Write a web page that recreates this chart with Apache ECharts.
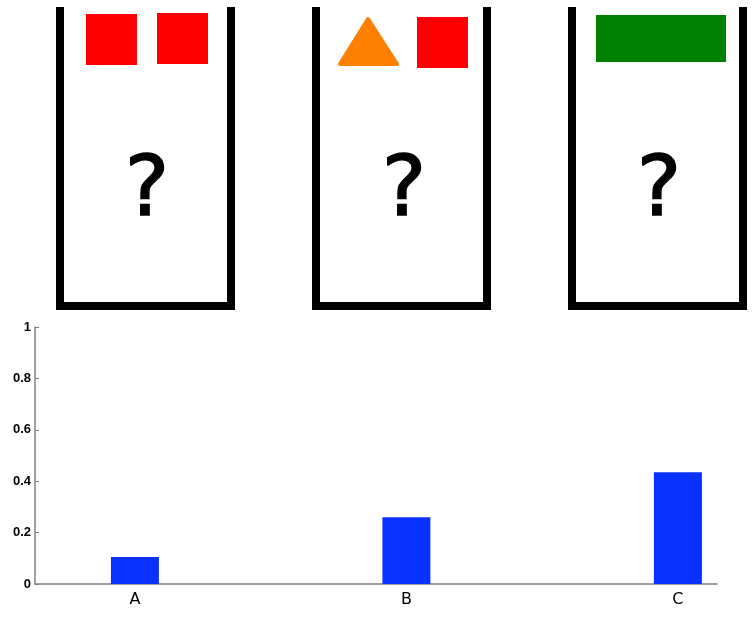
<!DOCTYPE html>
<html>
<head>
<meta charset="utf-8">
<script src="https://cdn.jsdelivr.net/npm/echarts@6/dist/echarts.min.js"></script>
<style>html,body{margin:0;padding:0;background:#fff;}#c{width:753px;height:617px;}</style>
</head>
<body>
<div id="c"></div>
<script>
const categories = ['A', 'B', 'C'];
const positions = [1, 2, 3];
const values = [0.105, 0.26, 0.435];
const yTicks = [0, 0.2, 0.4, 0.6, 0.8, 1];

const chart = echarts.init(document.getElementById('c'), null, {renderer: 'canvas'});

function wall(x, y, w, h) {
  return {type: 'rect', shape: {x: x, y: y, width: w, height: h}, style: {fill: '#000'}};
}
function container(x0, x1) {
  return [wall(x0, 7, 8, 303), wall(x1 - 8, 7, 8, 303), wall(x0, 302, x1 - x0, 8)];
}
function qmark(cx) {
  return {type: 'text', x: cx, y: 193, style: {text: '?', fontSize: 84, fontFamily: 'DejaVu Sans', fill: '#000', stroke: '#000', lineWidth: 1.5, align: 'center', verticalAlign: 'middle'}};
}

const graphics = [].concat(
  container(56, 235), container(312, 491), container(568, 747),
  [
    {type: 'rect', shape: {x: 86, y: 14, width: 51, height: 51}, style: {fill: '#ff0000'}},
    {type: 'rect', shape: {x: 157, y: 13, width: 51, height: 51}, style: {fill: '#ff0000'}},
    {type: 'polygon', shape: {points: [[368, 19], [397, 64], [340, 64]]}, style: {fill: '#ff8000', stroke: '#ff8000', lineWidth: 4, lineJoin: 'round'}},
    {type: 'rect', shape: {x: 417, y: 17, width: 51, height: 51}, style: {fill: '#ff0000'}},
    {type: 'rect', shape: {x: 596, y: 15, width: 130, height: 47}, style: {fill: '#008000'}},
    qmark(147), qmark(404), qmark(659)
  ]
);

chart.setOption({
  animation: false,
  backgroundColor: '#fff',
  grid: {left: 35, top: 327, width: 682, height: 257, containLabel: false},
  xAxis: {
    type: 'value', min: 0.632, max: 3.144,
    splitLine: {show: false},
    axisLine: {show: true, lineStyle: {color: '#808080', width: 1.5}},
    axisTick: {show: false},
    axisLabel: {
      customValues: positions,
      formatter: function (v) { const i = positions.indexOf(v); return i >= 0 ? categories[i] : ''; },
      color: '#000', fontSize: 16, fontFamily: 'DejaVu Sans', margin: 8
    }
  },
  yAxis: {
    type: 'value', min: 0, max: 1, interval: 0.2,
    splitLine: {show: false},
    axisLine: {show: true, lineStyle: {color: '#808080', width: 1.5}},
    axisTick: {show: true, inside: true, length: 4, lineStyle: {color: '#808080'}},
    axisLabel: {customValues: yTicks, color: '#000', fontSize: 13, fontWeight: 'bold', fontFamily: 'Liberation Sans', margin: 4}
  },
  series: [{
    type: 'bar',
    data: positions.map((p, i) => [p, values[i]]),
    barWidth: 48,
    itemStyle: {color: '#0a32ff'}
  }],
  graphic: graphics
});
</script>
</body>
</html>
